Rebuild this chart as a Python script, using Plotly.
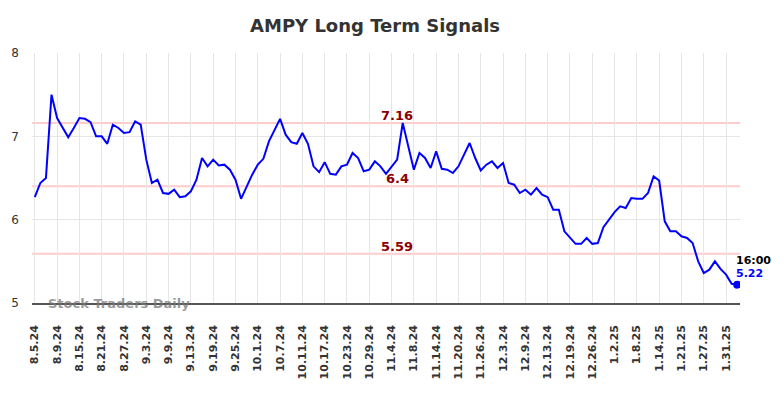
import plotly.graph_objects as go

dates = [
    "8.5.24", "8.6.24", "8.7.24", "8.8.24", "8.9.24", "8.12.24", "8.13.24", "8.14.24", "8.15.24", "8.16.24",
    "8.19.24", "8.20.24", "8.21.24", "8.22.24", "8.23.24", "8.26.24", "8.27.24", "8.28.24", "8.29.24", "8.30.24",
    "9.3.24", "9.4.24", "9.5.24", "9.6.24", "9.9.24", "9.10.24", "9.11.24", "9.12.24", "9.13.24", "9.16.24",
    "9.17.24", "9.18.24", "9.19.24", "9.20.24", "9.23.24", "9.24.24", "9.25.24", "9.26.24", "9.27.24", "9.30.24",
    "10.1.24", "10.2.24", "10.3.24", "10.4.24", "10.7.24", "10.8.24", "10.9.24", "10.10.24", "10.11.24", "10.14.24",
    "10.15.24", "10.16.24", "10.17.24", "10.18.24", "10.21.24", "10.22.24", "10.23.24", "10.24.24", "10.25.24", "10.28.24",
    "10.29.24", "10.30.24", "10.31.24", "11.1.24", "11.4.24", "11.5.24", "11.6.24", "11.7.24", "11.8.24", "11.11.24",
    "11.12.24", "11.13.24", "11.14.24", "11.15.24", "11.18.24", "11.19.24", "11.20.24", "11.21.24", "11.22.24", "11.25.24",
    "11.26.24", "11.27.24", "11.29.24", "12.2.24", "12.3.24", "12.4.24", "12.5.24", "12.6.24", "12.9.24", "12.10.24",
    "12.11.24", "12.12.24", "12.13.24", "12.16.24", "12.17.24", "12.18.24", "12.19.24", "12.20.24", "12.23.24", "12.24.24",
    "12.26.24", "12.27.24", "12.30.24", "12.31.24", "1.2.25", "1.3.25", "1.6.25", "1.7.25", "1.8.25", "1.9.25",
    "1.10.25", "1.13.25", "1.14.25", "1.15.25", "1.16.25", "1.17.25", "1.21.25", "1.22.25", "1.23.25", "1.24.25",
    "1.27.25", "1.28.25", "1.29.25", "1.30.25", "1.31.25", "2.3.25", "2.4.25",
]

prices = [
    6.27, 6.44, 6.50, 7.50, 7.22, 7.10, 6.99, 7.10, 7.22, 7.21,
    7.17, 7.00, 7.00, 6.91, 7.14, 7.10, 7.04, 7.05, 7.18, 7.14,
    6.72, 6.44, 6.48, 6.32, 6.31, 6.36, 6.27, 6.28, 6.34, 6.48,
    6.74, 6.64, 6.72, 6.65, 6.66, 6.60, 6.48, 6.25, 6.40, 6.54,
    6.66, 6.73, 6.94, 7.08, 7.21, 7.02, 6.93, 6.91, 7.04, 6.91,
    6.64, 6.57, 6.69, 6.55, 6.54, 6.64, 6.66, 6.80, 6.74, 6.58,
    6.60, 6.70, 6.64, 6.55, 6.64, 6.72, 7.16, 6.88, 6.60, 6.80,
    6.74, 6.62, 6.82, 6.61, 6.60, 6.56, 6.64, 6.78, 6.92, 6.74,
    6.59, 6.66, 6.70, 6.62, 6.68, 6.44, 6.42, 6.32, 6.36, 6.30,
    6.38, 6.30, 6.27, 6.12, 6.12, 5.86, 5.79, 5.71, 5.71, 5.78,
    5.71, 5.72, 5.91, 6.00, 6.09, 6.16, 6.14, 6.26, 6.25, 6.25,
    6.32, 6.52, 6.47, 5.98, 5.86, 5.86, 5.80, 5.78, 5.72, 5.50,
    5.36, 5.40, 5.50, 5.41, 5.34, 5.23, 5.22,
]

tick_labels = [
    "8.5.24", "8.9.24", "8.15.24", "8.21.24", "8.27.24", "9.3.24", "9.9.24", "9.13.24",
    "9.19.24", "9.25.24", "10.1.24", "10.7.24", "10.11.24", "10.17.24", "10.23.24", "10.29.24",
    "11.4.24", "11.8.24", "11.14.24", "11.20.24", "11.26.24", "12.3.24", "12.9.24", "12.13.24",
    "12.19.24", "12.26.24", "1.2.25", "1.8.25", "1.14.25", "1.21.25", "1.27.25", "1.31.25",
]

levels = [7.16, 6.4, 5.59]
level_labels = ["7.16", "6.4", "5.59"]
label_date = "11.5.24"
last_time = "16:00"

FONT = "DejaVu Sans"

fig = go.Figure()

for lv in levels:
    fig.add_shape(type="line", xref="paper", x0=0, x1=1, yref="y", y0=lv, y1=lv,
                  line=dict(color="#ffcccc", width=2), layer="below")

fig.add_trace(go.Scatter(x=dates, y=prices, mode="lines",
                         line=dict(color="#0000ff", width=2), hoverinfo="skip"))
fig.add_trace(go.Scatter(x=[dates[-1]], y=[prices[-1]], mode="markers",
                         marker=dict(color="#0000ff", size=8), hoverinfo="skip"))

for lv, lab in zip(levels, level_labels):
    fig.add_annotation(x=label_date, y=lv, text="<b>%s</b>" % lab, showarrow=False,
                       yanchor="bottom", yshift=-2,
                       font=dict(family=FONT, size=13, color="#8b0000"))

fig.add_annotation(x=dates[-1], y=prices[-1], text="<b>%s</b>" % last_time, showarrow=False,
                   xanchor="left", yanchor="middle", xshift=-3, yshift=24,
                   font=dict(family=FONT, size=11, color="#000000"))
fig.add_annotation(x=dates[-1], y=prices[-1], text="<b>%.2f</b>" % prices[-1], showarrow=False,
                   xanchor="left", yanchor="middle", xshift=-3, yshift=11,
                   font=dict(family=FONT, size=11, color="#0000ff"))

fig.add_annotation(xref="paper", yref="paper", x=0.02, y=0.0, text="<b>Stock Traders Daily</b>",
                   showarrow=False, xanchor="left", yanchor="middle",
                   font=dict(family=FONT, size=13, color="rgba(120,120,120,0.75)"))

# page body has an 8px default margin, so the figure is sized to fit the window
fig.update_layout(
    width=776, height=390,
    margin=dict(l=24, r=44, t=45, b=95, autoexpand=False),
    paper_bgcolor="white", plot_bgcolor="white",
    showlegend=False,
    title=dict(text="<b>AMPY Long Term Signals</b>", x=0.473, xanchor="center", y=0.954, yanchor="middle",
               font=dict(family=FONT, size=18, color="#333333")),
    font=dict(family=FONT, color="#333333"),
)

fig.update_xaxes(type="category", categoryorder="array", categoryarray=dates,
                 range=[-0.5, len(dates) - 0.5], automargin=False,
                 tickmode="array", tickvals=tick_labels,
                 ticktext=["<b>%s</b>" % t for t in tick_labels],
                 tickangle=-90, tickfont=dict(family=FONT, size=11, color="#333333"),
                 showgrid=True, gridcolor="#e6e6e6", gridwidth=1,
                 showline=True, linecolor="#555555", linewidth=1.5,
                 ticks="", ticklabelstandoff=16, zeroline=False)
fig.update_yaxes(range=[5, 8], tickvals=[5, 6, 7, 8], ticktext=["5", "6", "7", "8"],
                 automargin=False,
                 tickfont=dict(family=FONT, size=12, color="#333333"),
                 showgrid=True, gridcolor="#e6e6e6", gridwidth=1,
                 showline=False, zeroline=False, ticks="", ticklabelstandoff=12)

fig.write_html("out.html")
